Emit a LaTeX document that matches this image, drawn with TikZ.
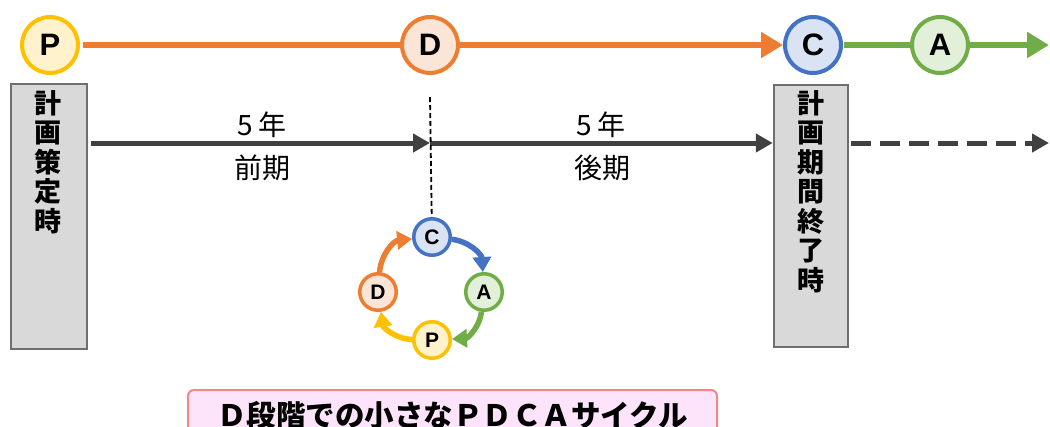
\documentclass[tikz,border=0pt]{standalone}
\usepackage{fontspec}
\setmainfont{Noto Sans CJK JP}
\newfontfamily\latinfont{Liberation Sans}
\usetikzlibrary{arrows.meta}

\definecolor{pdcaOrange}{HTML}{ED7D31}
\definecolor{pdcaOrangeFill}{HTML}{FBE5D6}
\definecolor{pdcaYellow}{HTML}{FFC000}
\definecolor{pdcaYellowFill}{HTML}{FFF2CC}
\definecolor{pdcaBlue}{HTML}{4472C4}
\definecolor{pdcaBlueFill}{HTML}{DAE3F3}
\definecolor{pdcaGreen}{HTML}{70AD47}
\definecolor{pdcaGreenFill}{HTML}{E2F0D9}
\definecolor{timeGray}{HTML}{404040}
\definecolor{boxGray}{HTML}{D9D9D9}
\definecolor{boxEdge}{HTML}{6F6F6F}
\definecolor{noteFill}{HTML}{FDE4FB}
\definecolor{noteEdge}{HTML}{F4868A}

\tikzset{
  phase/.style 2 args={circle,draw=#1,fill=#2,line width=4pt,minimum size=56pt,
    inner sep=0pt,font=\latinfont\bfseries\fontsize{31}{31}\selectfont},
  miniphase/.style 2 args={circle,draw=#1,fill=#2,line width=3.5pt,minimum size=36.5pt,
    inner sep=0pt,font=\latinfont\bfseries\fontsize{21}{21}\selectfont},
  timebox/.style={draw=boxEdge,fill=boxGray,line width=2.5pt,inner sep=0pt},
  boxtext/.style={anchor=north,align=center,inner sep=0pt,
    font=\bfseries\fontsize{27}{29.5}\selectfont},
  period/.style={font=\fontsize{28}{28}\selectfont,inner sep=0pt},
  bigtip/.style={-{Triangle[length=22pt,width=25pt]}},
  midtip/.style={-{Triangle[length=17pt,width=18pt]}},
  smalltip/.style={-{Triangle[length=15pt,width=18pt]}}
}

\begin{document}
\begin{tikzpicture}[x=1pt,y=-1pt]
  \clip (0,0) rectangle (1050,426);

  % PDCA along the top
  \node[phase={pdcaYellow}{pdcaYellowFill}] (P) at (50,45) {P};
  \node[phase={pdcaOrange}{pdcaOrangeFill}] (D) at (430,45) {D};
  \node[phase={pdcaBlue}{pdcaBlueFill}] (C) at (813,45) {C};
  \node[phase={pdcaGreen}{pdcaGreenFill}] (A) at (940,45) {A};
  \coordinate (topend) at (1049,45);

  % plan period boxes
  \node[timebox,minimum width=76pt,minimum height=265pt] (start) at (49,216.5) {};
  \node[boxtext] (starttext) at (48,90) {計\\画\\策\\定\\時};
  \node[timebox,minimum width=74pt,minimum height=262pt] (finish) at (811,216) {};
  \node[boxtext] (finishtext) at (811,90) {計\\画\\期\\間\\終\\了\\時};

  % time line
  \coordinate (half) at (430,143);
  \coordinate (beyond) at (1049,143);
  \coordinate (halftop) at (430,97);
  \node[period] (len1) at (262,125) {5 年};
  \node[period] (first) at (262,168) {前期};
  \node[period] (len2) at (601,125) {5 年};
  \node[period] (second) at (602,168) {後期};

  % small cycle
  \node[miniphase={pdcaBlue}{pdcaBlueFill}] (sC) at (432,237) {C};
  \node[miniphase={pdcaGreen}{pdcaGreenFill}] (sA) at (484,292) {A};
  \node[miniphase={pdcaYellow}{pdcaYellowFill}] (sP) at (432,340) {P};
  \node[miniphase={pdcaOrange}{pdcaOrangeFill}] (sD) at (378,292) {D};

  % note
  \node[draw=noteEdge,fill=noteFill,line width=2pt,rounded corners=6pt,
    minimum width=529pt,minimum height=56pt,anchor=north,
    font=\bfseries\fontsize{29.5}{29.5}\selectfont] (note) at (452.5,389)
    {\raisebox{9pt}{Ｄ段階での小さなＰＤＣＡサイクル}};

  \begin{scope}[line width=6pt]
    \draw[pdcaOrange,shorten <=3pt] (P) -- (D);
    \draw[pdcaOrange,bigtip] (D) -- (C);
    \draw[pdcaGreen,shorten <=1pt] (C) -- (A);
    \draw[pdcaGreen,bigtip] (A) -- (topend);
  \end{scope}
  \begin{scope}[line width=5pt,timeGray]
    \draw[midtip,shorten <=3pt] (start.east |- half) -- (half);
    \draw[midtip] (half) -- (finish.west |- half);
    \draw[midtip,dash pattern=on 20pt off 9pt,shorten <=2pt] (finish.east |- half) -- (beyond);
  \end{scope}
  \draw[line width=1.8pt,dash pattern=on 5pt off 3pt] (halftop) -- (sC);
  \begin{scope}[line width=5.5pt]
    \draw[pdcaBlue,smalltip] (sC) to[bend left=40] (sA);
    \draw[pdcaGreen,smalltip] (sA) to[bend left=40] (sP);
    \draw[pdcaYellow,smalltip] (sP) to[bend left=40] (sD);
    \draw[pdcaOrange,smalltip] (sD) to[bend left=40] (sC);
  \end{scope}
\end{tikzpicture}
\end{document}
